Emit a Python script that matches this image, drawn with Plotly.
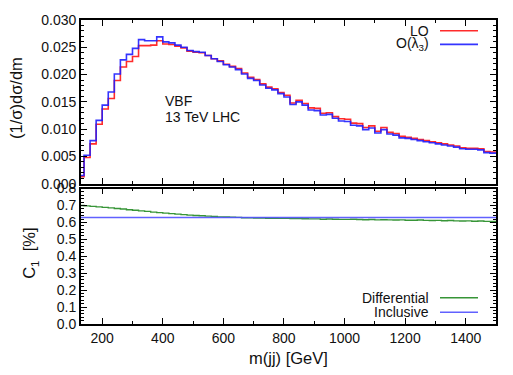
import plotly.graph_objects as go

# ---------------- data ----------------
bin_edges = list(range(120, 1501, 20))  # 20 GeV bins, 120..1500

lo = [0.0013, 0.0048, 0.0073, 0.0109, 0.0137, 0.0156, 0.0189, 0.0214, 0.0224, 0.0233,
      0.0253, 0.0253, 0.0254, 0.0262, 0.0256, 0.0255, 0.0252, 0.0249, 0.0243, 0.0241,
      0.0240, 0.0235, 0.0229, 0.0225, 0.0219, 0.0215, 0.0211, 0.0203, 0.0195, 0.0191,
      0.0183, 0.0177, 0.0174, 0.0167, 0.0162, 0.0148, 0.0153, 0.0147, 0.0139, 0.0138,
      0.0129, 0.0130, 0.0123, 0.0119, 0.0118, 0.0111, 0.0110, 0.0103, 0.0106, 0.0096,
      0.0103, 0.0094, 0.0092, 0.0087, 0.0085, 0.0083, 0.0081, 0.0079, 0.0077, 0.0075,
      0.0073, 0.0071, 0.0069, 0.0066, 0.0065, 0.0065, 0.0064, 0.0059, 0.0058]

olam = [0.0015, 0.0052, 0.0079, 0.0116, 0.0144, 0.0168, 0.0201, 0.0227, 0.0237, 0.0248,
        0.0264, 0.0262, 0.0262, 0.0269, 0.0260, 0.0258, 0.0254, 0.0250, 0.0244, 0.0242,
        0.0241, 0.0235, 0.0229, 0.0224, 0.0218, 0.0214, 0.0209, 0.0201, 0.0193, 0.0189,
        0.0181, 0.0175, 0.0172, 0.0165, 0.0159, 0.0145, 0.0150, 0.0144, 0.0135, 0.0134,
        0.0126, 0.0127, 0.0120, 0.0115, 0.0114, 0.0107, 0.0106, 0.0099, 0.0102, 0.0093,
        0.0099, 0.0091, 0.0089, 0.0084, 0.0083, 0.0081, 0.0079, 0.0077, 0.0075, 0.0073,
        0.0071, 0.0069, 0.0067, 0.0064, 0.0063, 0.0063, 0.0062, 0.0057, 0.0056]

c1_diff = [0.700, 0.698, 0.695, 0.692, 0.689, 0.686, 0.682, 0.679, 0.675, 0.672,
           0.668, 0.665, 0.661, 0.658, 0.655, 0.652, 0.649, 0.646, 0.643, 0.641,
           0.639, 0.637, 0.635, 0.633, 0.632, 0.631, 0.630, 0.628, 0.627, 0.626,
           0.626, 0.625, 0.625, 0.624, 0.624, 0.623, 0.623, 0.622, 0.621, 0.621,
           0.619, 0.620, 0.619, 0.618, 0.618, 0.619, 0.617, 0.616, 0.617, 0.615,
           0.616, 0.615, 0.614, 0.615, 0.613, 0.613, 0.614, 0.612, 0.611, 0.612,
           0.610, 0.611, 0.609, 0.608, 0.609, 0.607, 0.608, 0.606, 0.605]

c1_incl = 0.629
x_range = [130, 1500]

# ---------------- figure ----------------
def step(vals):
    return bin_edges, vals + [vals[-1]]

FONT = "Liberation Sans, Arial, Helvetica, sans-serif"
fig = go.Figure()

xs, ys = step(lo)
fig.add_trace(go.Scatter(x=xs, y=ys, mode="lines", line=dict(color="rgba(255,20,20,0.9)", width=1.6, shape="hv"),
                         name="LO", xaxis="x", yaxis="y"))
xs, ys = step(olam)
fig.add_trace(go.Scatter(x=xs, y=ys, mode="lines", line=dict(color="rgba(30,30,255,0.9)", width=1.6, shape="hv"),
                         name="O(λ3)", xaxis="x", yaxis="y"))
xs, ys = step(c1_diff)
fig.add_trace(go.Scatter(x=xs, y=ys, mode="lines", line=dict(color="rgba(20,130,20,0.85)", width=1.4, shape="hv"),
                         name="Differential", xaxis="x2", yaxis="y2"))
fig.add_trace(go.Scatter(x=x_range, y=[c1_incl, c1_incl], mode="lines",
                         line=dict(color="rgba(80,80,255,0.9)", width=1.6),
                         name="Inclusive", xaxis="x2", yaxis="y2"))

W, H = 513, 375
ML, MR, MT, MB = 81, 17, 12, 51
PW, PH = W - ML - MR, H - MT - MB

def px(x):
    return (x - ML) / PW

def py(y):
    return (H - MB - y) / PH

axis_common = dict(showline=True, linecolor="black", linewidth=1.8, mirror="allticks",
                   ticks="inside", ticklen=6, tickwidth=1, tickcolor="black",
                   showgrid=False, zeroline=False,
                   tickfont=dict(family=FONT, size=14, color="#111"))

fig.update_layout(
    width=W, height=H,
    margin=dict(l=ML, r=MR, t=MT, b=MB),
    paper_bgcolor="white", plot_bgcolor="white",
    showlegend=False,
    xaxis=dict(domain=[0, 1], range=x_range, anchor="y", showticklabels=False,
               tick0=0, dtick=200, minor=dict(dtick=100, ticklen=3, ticks="inside", tickcolor="black"),
               **axis_common),
    yaxis=dict(domain=[py(180), 1], range=[0, 0.030], anchor="x", dtick=0.005, tickformat=".3f",
               minor=dict(dtick=0.001, ticklen=3, ticks="inside", tickcolor="black"),
               **axis_common),
    xaxis2=dict(domain=[0, 1], range=x_range, anchor="y2", matches="x",
                tick0=0, dtick=200, minor=dict(dtick=100, ticklen=3, ticks="inside", tickcolor="black"),
                **axis_common),
    yaxis2=dict(domain=[0, py(185)], range=[0, 0.8], anchor="x2", dtick=0.1, tickformat=".1f",
                minor=dict(dtick=0.02, ticklen=3, ticks="inside", tickcolor="black"),
                **axis_common),
)

ann = []
# axis titles
ann.append(dict(text="(1/σ)dσ/dm", x=px(16), y=py(92), textangle=-90,
                font=dict(family=FONT, size=16.5, color="#111")))
ann.append(dict(text="C<sub>1</sub>  [%]", x=px(30), y=py(252), textangle=-90,
                font=dict(family=FONT, size=16.5, color="#111")))
ann.append(dict(text="m(jj) [GeV]", x=px(288), y=py(359),
                font=dict(family=FONT, size=16.5, color="#111")))
# labels
ann.append(dict(text="VBF", x=px(163), y=py(95), xanchor="left",
                font=dict(family=FONT, size=14, color="#111")))
ann.append(dict(text="13 TeV LHC", x=px(163), y=py(112), xanchor="left",
                font=dict(family=FONT, size=14, color="#111")))
# legend texts
legend_items = [("LO", 23, "rgba(255,20,20,0.9)"),
                ("O(λ<sub>3</sub>)", 37, "rgba(30,30,255,0.9)"),
                ("Differential", 297, "rgba(20,130,20,0.85)"),
                ("Inclusive", 312, "rgba(80,80,255,0.9)")]
shapes = []
for txt, yy, col in legend_items:
    ann.append(dict(text=txt, x=px(431), y=py(yy), xanchor="right",
                    font=dict(family=FONT, size=14, color="#111")))
    shapes.append(dict(type="line", xref="paper", yref="paper",
                       x0=px(440), x1=px(478), y0=py(yy), y1=py(yy),
                       line=dict(color=col, width=1.6)))

for a in ann:
    a.update(xref="paper", yref="paper", showarrow=False, yanchor="middle")
    a.setdefault("xanchor", "center")

fig.update_layout(annotations=ann, shapes=shapes)

fig.write_html("out.html")
